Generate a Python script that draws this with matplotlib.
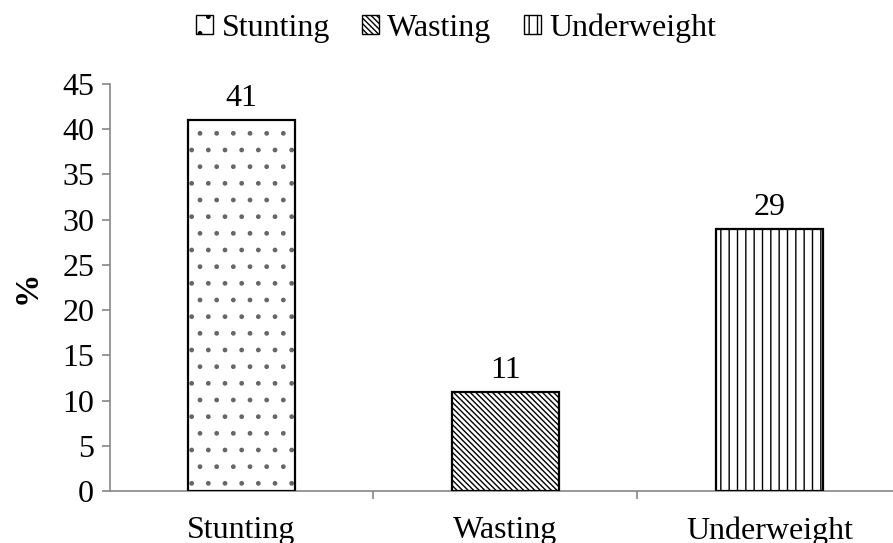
import numpy as np
import matplotlib
matplotlib.use("Agg")
import matplotlib.pyplot as plt
from matplotlib.patches import Patch

# data
categories = ["Stunting", "Wasting", "Underweight"]
values = [41, 11, 29]
hatches = [".", "\\\\\\\\\\\\", "||"]
hatch_colors = ["#666666", "black", "black"]

plt.rcParams['font.family'] = ['Liberation Serif', 'DejaVu Serif']
plt.rcParams['hatch.linewidth'] = 1.0
GREY = "#868686"
FS = 23

fig = plt.figure(figsize=(8.93, 5.43), dpi=100)
ax = fig.add_axes([109.5/893, 52/543, 792/893, 407/543])

x = np.arange(len(categories))
# hatch layer first, then the black outline on top
ax.bar(x, values, width=0.405, color="white", edgecolor=hatch_colors,
       linewidth=0, hatch=hatches, zorder=2)
bars = ax.bar(x, values, width=0.405, color="none", edgecolor="black",
              linewidth=1.6, zorder=3)
ax.bar_label(bars, labels=[str(v) for v in values], padding=5, fontsize=FS)

ax.set_xlim(-0.5, 2.5)
ax.set_ylim(0, 45)
ax.set_yticks(np.arange(0, 46, 5))
ax.set_xticks(x)
ax.set_xticklabels(categories)
ax.set_xticks([0.5, 1.5], minor=True)

for s in ["top", "right"]:
    ax.spines[s].set_visible(False)
for s in ["left", "bottom"]:
    ax.spines[s].set_color(GREY)
    ax.spines[s].set_linewidth(1.2)

ax.tick_params(axis="y", direction="out", length=6, width=1.2, color=GREY,
               labelsize=FS, pad=5)
ax.tick_params(axis="x", which="major", length=0, labelsize=FS, pad=18)
ax.tick_params(axis="x", which="minor", direction="out", length=6,
               width=1.2, color=GREY)

ax.set_ylabel("%", fontsize=24, fontweight="bold", labelpad=14)

handles = [Patch(facecolor="white", edgecolor="black", hatch=h, linewidth=1.0)
           for h in hatches]
fig.legend(handles, categories, loc="center", ncol=3,
           bbox_to_anchor=(456/893, 1 - 28/543), frameon=False, fontsize=FS,
           handlelength=0.55, handleheight=0.5, handletextpad=0.25,
           columnspacing=1.0)

fig.savefig("out.png", dpi=100)
